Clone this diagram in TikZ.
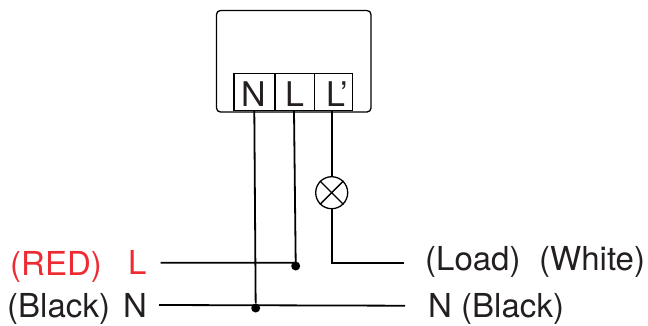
\documentclass[tikz,border=0pt]{standalone}
\usepackage{fontspec}
\setmainfont{TeX Gyre Heros}
\definecolor{lbl}{HTML}{231F20}
\definecolor{redlbl}{HTML}{ED2B33}
\begin{document}
\begin{tikzpicture}[x=1pt,y=-1pt,
  wire/.style={draw=black,line width=1.8pt},
  casing/.style={draw=black,line width=1.3pt,rounded corners=4pt},
  term/.style={draw=black,line width=1.1pt,minimum height=37.5pt,inner sep=0pt},
  termtxt/.style={anchor=base,inner sep=0pt,text=lbl,font=\fontsize{34}{34}\selectfont},
  lab/.style={anchor=base west,inner sep=0pt,text=lbl,font=\fontsize{33}{34}\selectfont},
  dotn/.style={circle,fill=black,inner sep=0pt,minimum size=9pt},
  lamp/.style={circle,draw=black,line width=1.3pt,minimum size=32pt,inner sep=0pt}]
\useasboundingbox (0,0) rectangle (648,325);
\draw[casing] (216.5,10.5) rectangle (371,112);
\node[term,minimum width=41pt] (tn) at (254.5,92) {};
\node[term,minimum width=39.5pt] (tl) at (294.75,92) {};
\node[term,minimum width=38pt] (tp) at (333.5,92) {};
\node[termtxt] (tnt) at (253.5,106) {N};
\node[termtxt] (tlt) at (295,106) {L};
\node[termtxt] (tpt) at (337,106) {L’};
\node[lamp] (lp) at (331.7,192.7) {};
\draw[line width=1.3pt] (lp.north west) -- (lp.south east) (lp.north east) -- (lp.south west);
\node[dotn] (dl) at (295.7,266) {};
\node[dotn] (dn) at (255.7,308) {};
\coordinate (a) at (160.5,262.7);
\coordinate (b) at (159,305);
\coordinate (c) at (405,305.7);
\coordinate (d) at (403.7,262.7);
\coordinate (e) at (331.7,262.7);
\coordinate (f) at (294,110.5);
\coordinate (g) at (254.3,110.5);
\coordinate (h) at (331.7,110.5);
\coordinate (i) at (295.7,262.7);
\draw[wire] (a) -- (i) -- (f);
\draw[wire] (g) -- (dn);
\draw[wire] (b) -- (c);
\draw[wire] (h) -- (lp);
\draw[wire] (lp) -- (e) -- (d);
\node[lab,text=redlbl] (t1) at (10,275) {(RED)};
\node[lab,text=redlbl] (t2) at (128,274) {L};
\node[lab] (t3) at (7,317.5) {(Black)};
\node[lab] (t4) at (123,317) {N};
\node[lab] (t5) at (425,270) {(Load)};
\node[lab] (t6) at (539,270) {(White)};
\node[lab] (t7) at (428,317) {N (Black)};
\end{tikzpicture}
\end{document}
